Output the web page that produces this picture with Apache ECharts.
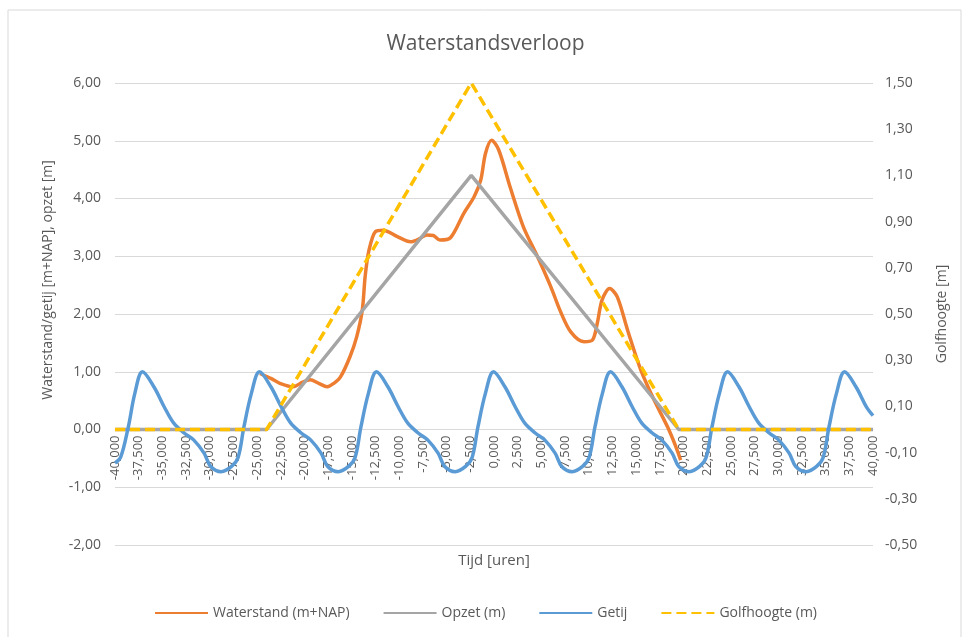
<!DOCTYPE html>
<html>
<head>
<meta charset="utf-8">
<title>Waterstandsverloop</title>
<script src="https://cdn.jsdelivr.net/npm/echarts@6/dist/echarts.min.js"></script>
<style>
  html, body { margin: 0; padding: 0; background: #ffffff; }
  #chart { width: 971px; height: 637px; }
</style>
</head>
<body>
<div id="chart"></div>
<script>
// tijd in uren, waarden in m
var getijTijd = [-40, -39.4, -38.6, -37.9, -37.1, -35.9, -34.8, -33.8, -32.7, -31.7, -30.6, -29.9, -28.8, -27.7, -27.0, -26.4, -25.6,
  -24.75, -23.55, -22.45, -21.45, -20.35, -19.35, -18.25, -17.55, -16.45, -15.35, -14.65, -14.05, -13.25,
  -12.4, -11.2, -10.1, -9.1, -8.0, -7.0, -5.9, -5.2, -4.1, -3.0, -2.3, -1.7, -0.9,
  -0.05, 1.15, 2.25, 3.25, 4.35, 5.35, 6.45, 7.15, 8.25, 9.35, 10.05, 10.65, 11.45,
  12.3, 13.5, 14.6, 15.6, 16.7, 17.7, 18.8, 19.5, 20.6, 21.7, 22.4, 23.0, 23.8,
  24.65, 25.85, 26.95, 27.95, 29.05, 30.05, 31.15, 31.85, 32.95, 34.05, 34.75, 35.35, 36.15,
  37.0, 38.2, 39.3, 40];
var getijWaarde = [-0.58, -0.48, 0.04, 0.63, 1.0, 0.74, 0.39, 0.11, -0.06, -0.18, -0.41, -0.64, -0.73, -0.64, -0.48, 0.04, 0.63,
  1.0, 0.74, 0.39, 0.11, -0.06, -0.18, -0.41, -0.64, -0.73, -0.64, -0.48, 0.04, 0.63,
  1.0, 0.74, 0.39, 0.11, -0.06, -0.18, -0.41, -0.64, -0.73, -0.64, -0.48, 0.04, 0.63,
  1.0, 0.74, 0.39, 0.11, -0.06, -0.18, -0.41, -0.64, -0.73, -0.64, -0.48, 0.04, 0.63,
  1.0, 0.74, 0.39, 0.11, -0.06, -0.18, -0.41, -0.64, -0.73, -0.64, -0.48, 0.04, 0.63,
  1.0, 0.74, 0.39, 0.11, -0.06, -0.18, -0.41, -0.64, -0.73, -0.64, -0.48, 0.04, 0.63,
  1.0, 0.74, 0.39, 0.24];

var waterstandTijd = [-24.7, -23.5, -22.6, -21.2, -20.2, -19.4, -18.5, -17.6, -16.9, -16.2, -15.2, -14.5, -13.9, -13.6, -13.2,
  -12.5, -11.7, -10.2, -8.8, -7.9, -7.1, -6.4, -5.7, -4.6, -3.2, -2.1, -1.4, -0.9, -0.26, 0.5, 1.7, 3.1, 4.6, 6.0, 7.0,
  8.1, 9.5, 10.4, 10.9, 11.4, 12.2, 13.0, 14.1, 15.5, 16.9, 18.3, 19.2, 19.7];
var waterstandWaarde = [0.97, 0.88, 0.8, 0.74, 0.82, 0.86, 0.8, 0.74, 0.8, 0.91, 1.26, 1.6, 2.07, 2.65, 3.1,
  3.43, 3.45, 3.34, 3.25, 3.3, 3.37, 3.36, 3.28, 3.32, 3.74, 4.03, 4.32, 4.78, 5.01, 4.84, 4.2, 3.51, 2.99, 2.47, 2.05,
  1.69, 1.52, 1.55, 1.84, 2.24, 2.44, 2.3, 1.72, 1.03, 0.51, 0.05, -0.3, -0.53];

var opzetTijd = [-40, -24, -2.4, 19.5, 40];
var opzetWaarde = [0, 0, 4.4, 0, 0];

var golfTijd = [-40, -24, -2.4, 19.5, 40];
var golfWaarde = [0, 0, 1.5, 0, 0];

var golfTicks = [-0.5, -0.3, -0.1, 0.1, 0.3, 0.5, 0.7, 0.9, 1.1, 1.3, 1.5];

function pairs (xs, ys) {
  var out = [];
  for (var i = 0; i < xs.length; i++) {
    out.push([xs[i], ys[i]]);
  }
  return out;
}

function komma (v, d) {
  return (Math.round(v * 1000) / 1000).toFixed(d).replace('.', ',');
}

var fontFam = '"Open Sans", "Noto Sans", sans-serif';
var tekst = '#595959';
var grijsLijn = '#d9d9d9';

var chart = echarts.init(document.getElementById('chart'));
chart.setOption({
  backgroundColor: '#ffffff',
  textStyle: { fontFamily: fontFam, color: tekst },
  graphic: [{
    type: 'rect',
    shape: { x: 8, y: 10, width: 953, height: 640 },
    style: { fill: 'none', stroke: grijsLijn, lineWidth: 1 },
    silent: true
  }],
  title: {
    text: 'Waterstandsverloop',
    left: 'center',
    top: 34,
    padding: 0,
    textStyle: { fontFamily: fontFam, fontSize: 21, fontWeight: 'normal', color: tekst }
  },
  legend: {
    bottom: 12,
    left: 'center',
    itemWidth: 53,
    itemHeight: 14,
    itemGap: 33,
    itemStyle: { opacity: 0 },
    textStyle: { fontFamily: fontFam, fontSize: 14, color: tekst },
    data: ['Waterstand (m+NAP)', 'Opzet (m)', 'Getij', 'Golfhoogte (m)']
  },
  grid: { left: 115, right: 98, top: 83, bottom: 92, outerBoundsMode: 'none', containLabel: false },
  xAxis: {
    type: 'value',
    min: -40,
    max: 40,
    interval: 2.5,
    position: 'bottom',
    offset: -115.5, // as op waterstand 0
    name: 'Tijd [uren]',
    nameLocation: 'middle',
    nameGap: 124,
    nameTextStyle: { fontSize: 15, color: tekst },
    axisLine: { show: true, onZero: false, lineStyle: { color: grijsLijn, width: 1 } },
    axisTick: { show: false },
    splitLine: { show: false },
    axisLabel: {
      rotate: 90,
      margin: 6,
      fontSize: 13,
      color: tekst,
      showMinLabel: true,
      showMaxLabel: true,
      hideOverlap: false,
      formatter: function (v) { return komma(v, 3); }
    }
  },
  yAxis: [
    {
      type: 'value',
      min: -2,
      max: 6,
      interval: 1,
      name: 'Waterstand/getij [m+NAP], opzet [m]',
      nameLocation: 'middle',
      nameGap: 60,
      nameTextStyle: { fontSize: 14, color: tekst, padding: [0, 0, 0, 68] },
      axisLine: { show: false, onZero: false },
      axisTick: { show: false },
      splitLine: { show: true, lineStyle: { color: grijsLijn, width: 1 } },
      axisLabel: { margin: 14, fontSize: 14, color: tekst, formatter: function (v) { return komma(v, 2); } }
    },
    {
      type: 'value',
      min: -0.5,
      max: 1.5,
      name: 'Golfhoogte [m]',
      nameLocation: 'middle',
      nameRotate: 90,
      nameGap: 62,
      nameTextStyle: { fontSize: 14, color: tekst },
      axisLine: { show: false, onZero: false },
      axisTick: { show: false },
      splitLine: { show: false },
      axisLabel: {
        customValues: golfTicks,
        margin: 12,
        fontSize: 14,
        color: tekst,
        formatter: function (v) { return komma(v, 2); }
      }
    }
  ],
  series: [
    {
      name: 'Waterstand (m+NAP)',
      type: 'line',
      yAxisIndex: 0,
      showSymbol: false,
      symbol: 'none',
      smooth: 0.3,
      color: '#ED7D31',
      lineStyle: { width: 3.5, color: '#ED7D31' },
      data: pairs(waterstandTijd, waterstandWaarde)
    },
    {
      name: 'Opzet (m)',
      type: 'line',
      yAxisIndex: 0,
      showSymbol: false,
      symbol: 'none',
      color: '#A5A5A5',
      lineStyle: { width: 3.5, color: '#A5A5A5' },
      data: pairs(opzetTijd, opzetWaarde)
    },
    {
      name: 'Getij',
      type: 'line',
      yAxisIndex: 0,
      showSymbol: false,
      symbol: 'none',
      smooth: 0.35,
      color: '#5B9BD5',
      lineStyle: { width: 3.5, color: '#5B9BD5' },
      data: pairs(getijTijd, getijWaarde)
    },
    {
      name: 'Golfhoogte (m)',
      type: 'line',
      yAxisIndex: 1,
      showSymbol: false,
      symbol: 'none',
      color: '#FFC000',
      lineStyle: { width: 3.5, color: '#FFC000', type: [10, 5] },
      data: pairs(golfTijd, golfWaarde)
    }
  ]
});
</script>
</body>
</html>
